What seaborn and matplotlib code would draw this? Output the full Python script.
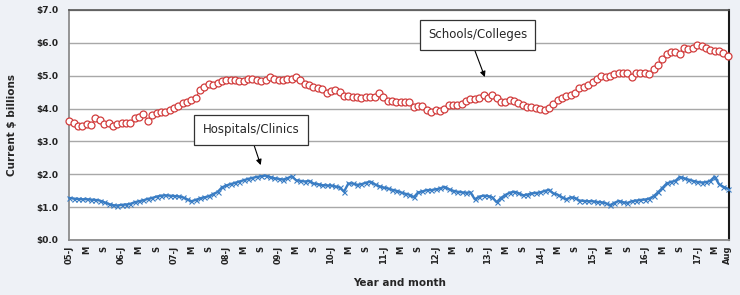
import numpy as np
import matplotlib
matplotlib.use("Agg")
import matplotlib.pyplot as plt
import seaborn as sns

# Monthly construction spending, Jan 2005 - Aug 2017 (current $ billions)
schools = [
    3.63, 3.55, 3.48, 3.47, 3.53, 3.50, 3.70, 3.64, 3.54, 3.55, 3.47, 3.54,  # 2005
    3.56, 3.57, 3.57, 3.71, 3.73, 3.84, 3.63, 3.80, 3.86, 3.89, 3.90, 3.95,  # 2006
    4.02, 4.08, 4.18, 4.21, 4.26, 4.32, 4.58, 4.65, 4.76, 4.73, 4.77, 4.83,  # 2007
    4.86, 4.88, 4.88, 4.85, 4.85, 4.90, 4.90, 4.87, 4.85, 4.88, 4.96, 4.90,  # 2008
    4.86, 4.86, 4.89, 4.91, 4.96, 4.87, 4.76, 4.72, 4.67, 4.63, 4.59, 4.46,  # 2009
    4.54, 4.57, 4.49, 4.39, 4.39, 4.36, 4.34, 4.32, 4.35, 4.36, 4.36, 4.46,  # 2010
    4.34, 4.24, 4.22, 4.20, 4.21, 4.20, 4.20, 4.06, 4.08, 4.08, 3.95, 3.91,  # 2011
    3.96, 3.93, 4.00, 4.10, 4.10, 4.10, 4.13, 4.23, 4.28, 4.28, 4.33, 4.40,  # 2012
    4.33, 4.40, 4.33, 4.20, 4.20, 4.25, 4.23, 4.16, 4.10, 4.06, 4.05, 4.01,  # 2013
    4.00, 3.95, 4.02, 4.15, 4.27, 4.31, 4.37, 4.42, 4.48, 4.63, 4.66, 4.73,  # 2014
    4.80, 4.89, 4.98, 4.96, 5.00, 5.04, 5.08, 5.08, 5.08, 4.97, 5.08, 5.08,  # 2015
    5.08, 5.06, 5.19, 5.34, 5.51, 5.67, 5.71, 5.71, 5.67, 5.83, 5.80, 5.85,  # 2016
    5.94, 5.90, 5.83, 5.78, 5.75, 5.74, 5.70, 5.59,                          # 2017
]
hospitals = [
    1.28, 1.26, 1.25, 1.24, 1.24, 1.23, 1.22, 1.20, 1.15, 1.10, 1.06, 1.05,
    1.07, 1.08, 1.10, 1.15, 1.18, 1.21, 1.25, 1.28, 1.32, 1.35, 1.36, 1.35,
    1.34, 1.33, 1.30, 1.24, 1.18, 1.22, 1.27, 1.30, 1.33, 1.40, 1.46, 1.60,
    1.66, 1.70, 1.74, 1.78, 1.82, 1.86, 1.89, 1.92, 1.94, 1.96, 1.92, 1.88,
    1.86, 1.84, 1.88, 1.94, 1.82, 1.80, 1.78, 1.80, 1.72, 1.70, 1.67, 1.66,
    1.66, 1.63, 1.60, 1.47, 1.72, 1.72, 1.68, 1.70, 1.74, 1.78, 1.70, 1.64,
    1.60, 1.57, 1.53, 1.50, 1.45, 1.41, 1.38, 1.30, 1.45, 1.48, 1.52, 1.52,
    1.54, 1.57, 1.62, 1.55, 1.50, 1.47, 1.45, 1.44, 1.45, 1.24, 1.32, 1.35,
    1.34, 1.30, 1.15, 1.28, 1.37, 1.44, 1.47, 1.43, 1.36, 1.38, 1.42, 1.43,
    1.45, 1.49, 1.53, 1.42, 1.38, 1.30, 1.24, 1.30, 1.28, 1.20, 1.19, 1.18,
    1.18, 1.16, 1.15, 1.12, 1.06, 1.13, 1.19, 1.15, 1.13, 1.18, 1.20, 1.22,
    1.23, 1.26, 1.33, 1.45, 1.58, 1.72, 1.77, 1.80, 1.92, 1.88, 1.84, 1.80,
    1.77, 1.75, 1.76, 1.80, 1.93, 1.70, 1.62, 1.56,
]
tick_labels = [
    "05-J", "M", "S", "06-J", "M", "S", "07-J", "M", "S", "08-J", "M", "S",
    "09-J", "M", "S", "10-J", "M", "S", "11-J", "M", "S", "12-J", "M", "S",
    "13-J", "M", "S", "14-J", "M", "S", "15-J", "M", "S", "16-J", "M", "S",
    "17-J", "M", "Aug",
]
y_ticks = [0, 1, 2, 3, 4, 5, 6, 7]

months = np.arange(len(schools))
tick_pos = list(range(0, len(schools) - 3, 4)) + [len(schools) - 1]

sns.set_style("white")
plt.rcParams["font.family"] = ["DejaVu Sans"]

fig = plt.figure(figsize=(7.4, 2.95), dpi=100)
fig.patch.set_facecolor("#EEF1F6")
ax = fig.add_axes([69.3 / 740, 55 / 295, (729 - 69.3) / 740, 230 / 295])
ax.set_facecolor("white")

sns.lineplot(x=months, y=schools, ax=ax, color="#D23C3C", lw=0.8,
             marker="o", markersize=5, markerfacecolor="white",
             markeredgecolor="#D23C3C", markeredgewidth=0.9, clip_on=False, zorder=3)
sns.lineplot(x=months, y=hospitals, ax=ax, color="#3A7DC4", lw=1.7,
             marker="x", markersize=3.6, markeredgecolor="#3A7DC4",
             markeredgewidth=0.8, clip_on=False, zorder=3)

ax.set_xlim(0, 151.3)
ax.set_ylim(0, 7)
ax.set_yticks(y_ticks)
ax.set_yticklabels([f"${v:.1f}" for v in y_ticks], fontsize=6.5, fontweight="bold", color="#222")
ax.set_xticks(tick_pos)
ax.set_xticklabels(tick_labels, rotation=90, fontsize=6, fontweight="bold", color="#222")
ax.set_xticks(months, minor=True)
ax.tick_params(axis="x", which="both", direction="in", length=2, width=0.8, color="#888", pad=4)
ax.tick_params(axis="y", length=0, pad=8)

ax.grid(axis="y", color="#A8A8A8", lw=1)
ax.set_axisbelow(True)

for side in ["left", "bottom"]:
    ax.spines[side].set_color("#8C8C8C")
    ax.spines[side].set_linewidth(1.3)
ax.spines["top"].set_color("#555555")
ax.spines["top"].set_linewidth(1.2)
ax.spines["right"].set_color("#1A1A1A")
ax.spines["right"].set_linewidth(1.5)

ax.set_ylabel("Current $ billions", fontsize=7.5, fontweight="bold", labelpad=14)
ax.set_xlabel("Year and month", fontsize=7.5, fontweight="bold", labelpad=10)

box = dict(boxstyle="square,pad=0.7", fc="white", ec="#333333", lw=0.9)
arrow = dict(arrowstyle="-|>", color="black", lw=0.8, mutation_scale=8,
             shrinkA=0, shrinkB=0)
ax.annotate("Schools/Colleges", xy=(95.3, 4.96), xytext=(93.6, 6.24),
            fontsize=8.5, ha="center", va="center", bbox=box,
            arrowprops=dict(arrow, relpos=(0.44, 0)), zorder=5)
ax.annotate("Hospitals/Clinics", xy=(43.9, 2.28), xytext=(41.7, 3.35),
            fontsize=8.5, ha="center", va="center", bbox=box,
            arrowprops=dict(arrow, relpos=(0.5, 0)), zorder=5)

fig.savefig("out.png", dpi=100, facecolor=fig.get_facecolor())
